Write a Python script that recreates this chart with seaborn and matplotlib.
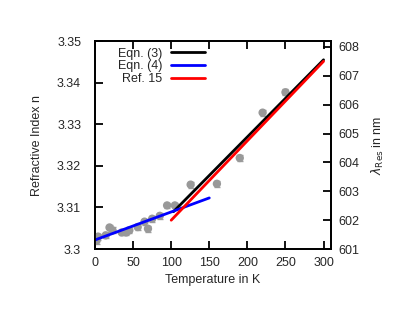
import matplotlib
matplotlib.use("Agg")
import matplotlib.pyplot as plt
import numpy as np
import pandas as pd
import seaborn as sns

# measured refractive index vs temperature
temp_k = [2, 4, 14, 19, 23, 35, 41, 45, 56, 65, 69.5, 75, 85, 94.6, 104.8, 125.5, 160, 190, 220, 250]
index_n = [3.3020, 3.3030, 3.3033, 3.3052, 3.3045, 3.3040, 3.3040, 3.3045, 3.3053, 3.3066,
           3.3049, 3.3073, 3.3080, 3.3105, 3.3105, 3.3155, 3.3157, 3.3219, 3.3328, 3.3377]
index_err = [0.0007] * len(temp_k)

# model curves
eqn3_t = [103, 300]
eqn3_n = [3.3090, 3.3455]
eqn4_t = [0, 150]
eqn4_n = [3.3022, 3.3123]
ref15_t = [100, 300]
ref15_lam = [602.0, 607.5]

sns.set_style("ticks")
plt.rcParams.update({
    "font.family": ["Liberation Sans", "DejaVu Sans"],
    "font.size": 9,
    "axes.edgecolor": "black",
    "axes.linewidth": 1.3,
})

fig = plt.figure(figsize=(4.15, 3.21), dpi=100)
ax = fig.add_axes([0.229, 0.224, 0.569, 0.648])
ax2 = ax.twinx()

ax.errorbar(temp_k, index_n, yerr=index_err, fmt="none", ecolor="#a0a0a0",
            elinewidth=1, capsize=2, capthick=1, zorder=2)
sns.scatterplot(x=temp_k, y=index_n, ax=ax, color="#999999", s=36,
                edgecolor="none", zorder=3)

lines = pd.DataFrame({"T": eqn3_t, "n": eqn3_n})
sns.lineplot(data=lines, x="T", y="n", ax=ax, color="black", lw=2, label="Eqn. (3)", zorder=4)
sns.lineplot(x=eqn4_t, y=eqn4_n, ax=ax, color="#0000ff", lw=2, label="Eqn. (4)", zorder=4)
sns.lineplot(x=ref15_t, y=ref15_lam, ax=ax2, color="#ff0000", lw=2, label="Ref. 15", zorder=5)

ax.set_xlim(0, 310)
ax.set_ylim(3.30, 3.35)
ax2.set_ylim(601, 608.2)
ax.set_xticks(np.arange(0, 301, 50))
ax.set_yticks([3.30, 3.31, 3.32, 3.33, 3.34, 3.35])
ax.set_yticklabels(["3.3", "3.31", "3.32", "3.33", "3.34", "3.35"])
ax2.set_yticks(range(601, 609))

ax.set_xlabel("Temperature in K", labelpad=3)
ax.set_ylabel("Refractive Index n", labelpad=10)
ax2.set_ylabel(r"$\lambda_{\mathrm{Res}}$ in nm", labelpad=8)

h1, l1 = ax.get_legend_handles_labels()
h2, l2 = ax2.get_legend_handles_labels()
if ax2.get_legend():
    ax2.get_legend().remove()
ax.legend(h1 + h2, l1 + l2, loc="upper right", bbox_to_anchor=(0.475, 0.98),
          markerfirst=False, frameon=False, handlelength=2.7, handletextpad=0.7,
          labelspacing=0.05, borderaxespad=0.0, borderpad=0.2, fontsize=9)

# inward ticks, set last
ax.tick_params(axis="x", direction="in", bottom=True, top=True, length=6, width=1.3,
               color="black", pad=6)
ax.tick_params(axis="y", direction="in", left=True, right=False, length=6, width=1.3,
               color="black", pad=10)
ax2.tick_params(axis="y", direction="in", right=True, left=False, length=6, width=1.3,
                color="black", pad=5)
ax2.tick_params(axis="x", bottom=False, top=False)

plt.savefig("out.png", dpi=100)
